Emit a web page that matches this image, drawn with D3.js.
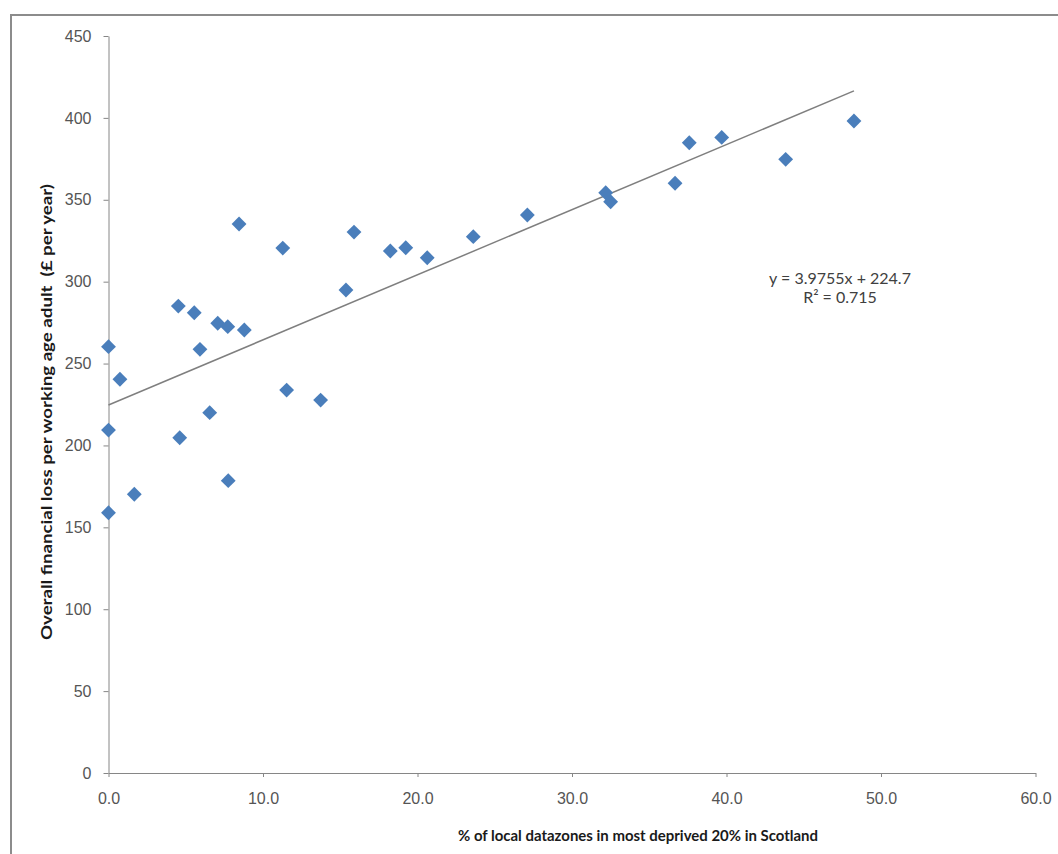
<!DOCTYPE html>
<html>
<head>
<meta charset="utf-8">
<script src="https://cdn.jsdelivr.net/npm/d3@7"></script>
<style>
  body { margin: 0; background: #fff; }
  svg { display: block; font-family: Lato, "Open Sans", sans-serif; }
  .tick text { fill: #555; font-size: 16px; }
  .axis-title { font-weight: bold; fill: #1a1a1a; }
  .trend-label { font-size: 16px; fill: #404040; }
</style>
</head>
<body>
<div id="chart"></div>
<script>
// data: % deprived datazones (x) vs loss per working age adult (y)
const pctDeprived = [0.0, 0.74, 0.0, 0.0, 1.67, 4.52, 4.61, 5.55, 5.92, 6.55, 7.07, 7.72, 7.75, 8.45, 8.79,
    11.28, 11.53, 13.73, 15.37, 15.89, 18.24, 19.24, 20.63, 23.61, 27.11, 32.18, 32.50, 36.67, 37.59, 39.69,
    43.83, 48.25];
const lossPerAdult = [260.3, 240.4, 209.4, 158.9, 170.2, 285.1, 204.7, 281.0, 258.7, 220.0, 274.6, 272.5, 178.5,
    335.2, 270.5, 320.5, 233.8, 227.7, 294.9, 330.3, 318.7, 320.7, 314.6, 327.5, 340.7, 354.3, 348.8, 360.1,
    384.8, 388.1, 374.7, 398.1];

// linear trendline as printed on the chart
const trendSlope = 3.9755;
const trendIntercept = 224.7;
const trendText = ["y = 3.9755x + 224.7", "R\u00B2 = 0.715"];

const xTicks = [0, 10, 20, 30, 40, 50, 60];
const yTicks = [0, 50, 100, 150, 200, 250, 300, 350, 400, 450];

const xTitle = "% of local datazones in most deprived 20% in Scotland";
const yTitle = "Overall financial loss per working age adult\u00A0 (\u00A3 per year)";

const width = 1058;
const height = 854;

const points = pctDeprived.map((x, i) => ({x: x, y: lossPerAdult[i]}));

const svg = d3.select("#chart")
    .append("svg")
    .attr("width", width)
    .attr("height", height);

// outer frame (only top and left edges are visible in the crop)
svg.append("path")
    .attr("d", `M11,${height} L11,15 L${width},15`)
    .attr("fill", "none")
    .attr("stroke", "#8c8c8c")
    .attr("stroke-width", 2);

// scales
const xScale = d3.scaleLinear().domain([0, 60]).range([108.5, 1035.5]);
const yScale = d3.scaleLinear().domain([0, 450]).range([773, 36]);

// axes
const xAxis = svg.append("g")
    .attr("transform", `translate(0,${yScale(0)})`)
    .call(d3.axisBottom(xScale).tickValues(xTicks).tickFormat(d3.format(".1f"))
        .tickSizeInner(4).tickSizeOuter(0).tickPadding(16));

const yAxis = svg.append("g")
    .attr("transform", `translate(${xScale(0)},0)`)
    .call(d3.axisLeft(yScale).tickValues(yTicks).tickSizeInner(5).tickSizeOuter(0).tickPadding(12));

[xAxis, yAxis].forEach(ax => {
    ax.select(".domain").attr("stroke", "#868686");
    ax.selectAll(".tick line").attr("stroke", "#868686");
    ax.selectAll("text").attr("font-family", null).attr("font-size", null);
});

// trendline spans the range of the data
const xExt = d3.extent(pctDeprived);
svg.append("line")
    .attr("x1", xScale(xExt[0]))
    .attr("y1", yScale(trendIntercept + trendSlope * xExt[0]))
    .attr("x2", xScale(xExt[1]))
    .attr("y2", yScale(trendIntercept + trendSlope * xExt[1]))
    .attr("stroke", "#7f7f7f")
    .attr("stroke-width", 1.5);

// diamond markers
svg.selectAll(".dot")
    .data(points)
    .join("path")
    .attr("class", "dot")
    .attr("d", d3.symbol(d3.symbolSquare, 110))
    .attr("transform", d => `translate(${xScale(d.x)},${yScale(d.y)}) rotate(45)`)
    .attr("fill", "#4a7ebb");

// trendline equation
svg.selectAll(".trend-label")
    .data(trendText)
    .join("text")
    .attr("class", "trend-label")
    .attr("x", 840)
    .attr("y", (d, i) => 284 + i * 19)
    .attr("text-anchor", "middle")
    .text(d => d);

// axis titles, stretched to the widths measured on the picture
svg.append("text")
    .attr("class", "axis-title")
    .attr("x", 638)
    .attr("y", 841)
    .attr("font-size", 15)
    .attr("text-anchor", "middle")
    .attr("textLength", 360)
    .attr("lengthAdjust", "spacingAndGlyphs")
    .text(xTitle);

svg.append("text")
    .attr("class", "axis-title")
    .attr("transform", "translate(52,412) rotate(-90)")
    .attr("font-size", 16)
    .attr("text-anchor", "middle")
    .attr("textLength", 456)
    .attr("lengthAdjust", "spacingAndGlyphs")
    .text(yTitle);
</script>
</body>
</html>
